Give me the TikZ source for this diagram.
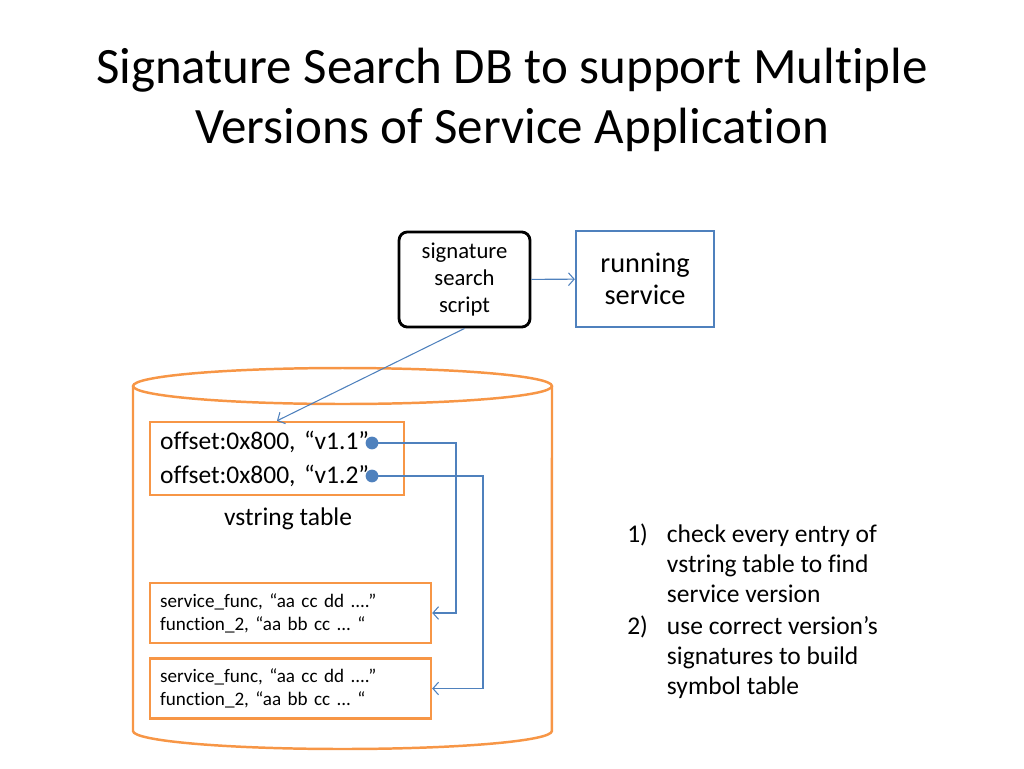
\documentclass[tikz,border=0pt]{standalone}
\usepackage{fontspec}
\setmainfont{Carlito}[Ligatures={TeX,NoCommon}]
\usetikzlibrary{arrows.meta}
\definecolor{colB}{RGB}{79,129,189}
\definecolor{colO}{RGB}{247,150,70}
\tikzstyle{box}=[draw, rectangle, inner sep=0pt, align=center]
\tikzstyle{scriptbox}=[box, rounded corners=6pt, line width=2pt, minimum width=3.25cm, minimum height=2.36cm, font=\fontsize{16}{19}\selectfont]
\tikzstyle{svcbox}=[box, colB, text=black, line width=1.75pt, minimum width=3.42cm, minimum height=2.38cm, font=\fontsize{20}{23}\selectfont]
\tikzstyle{dbline}=[colO, line width=1.75pt]
\tikzstyle{tbox}=[box, dbline, text=black, align=left, inner xsep=0.25cm]
\tikzstyle{dot}=[circle, fill=colB, inner sep=0pt, minimum size=9pt]
\tikzstyle{link}=[colB, line width=0.75pt, -{Straight Barb[length=4pt,width=9pt]}]
\frenchspacing

\begin{document}
\begin{tikzpicture}[x=0.0248047cm, y=-0.0248047cm]
		\useasboundingbox (0,0) rectangle (1024,768);
		\node[align=center, font=\fontsize{36}{42.3}\selectfont] (title) at (512,100) {Signature Search DB to support Multiple\\Versions of Service Application};
		\node[scriptbox] (s) at (464.5,279.5) {signature\\search\\script};
		\node[svcbox] (r) at (645,279) {running\\service};
		% database cylinder
		\draw[dbline] (133,386) -- (133,731) arc[start angle=180, end angle=360, x radius=5.1966cm, y radius=0.4465cm] -- (552,386);
		\draw[dbline] (342.5,386) ellipse[x radius=5.1966cm, y radius=0.4465cm];
		\node[tbox, minimum width=6.30cm, minimum height=1.81cm, text width=5.8cm, font=\fontsize{18}{24}\selectfont] (v) at (277,458.5) {offset:0x800, “v1.1”\\offset:0x800, “v1.2”};
		\node[font=\fontsize{18}{22}\selectfont] (vl) at (288,519) {vstring table};
		\node[tbox, minimum width=6.97cm, minimum height=1.49cm, text width=6.47cm, font=\fontsize{13.5}{16.3}\selectfont] (b1) at (290.5,613) {service\_func, “aa cc dd ....”\\function\_2, “aa bb cc ... “};
		\node[tbox, minimum width=6.97cm, minimum height=1.49cm, text width=6.47cm, font=\fontsize{13.5}{16.3}\selectfont] (b2) at (290.5,688.5) {service\_func, “aa cc dd ....”\\function\_2, “aa bb cc ... “};
		\node[dot] (d1) at (372,443) {};
		\node[dot] (d2) at (372,476) {};
		\node[anchor=base west, inner sep=0pt, font=\fontsize{18}{21.2}\selectfont] (steps) at (627,542) {\begin{tabular}[t]{@{}p{28pt}@{}l@{}}
			1) & check every entry of\\ & vstring table to find\\ & service version\\[1.5pt]
			2) & use correct version’s\\ & signatures to build\\ & symbol table
		\end{tabular}};
		\draw[link] (s) -- (r);
		\draw[link] (s.south) -- (v.north);
		\draw[link] (d1.center) -- (456,443) |- (b1.east);
		\draw[link] (d2.center) -- (483,476) |- (b2.east);
	\end{tikzpicture}
\end{document}
